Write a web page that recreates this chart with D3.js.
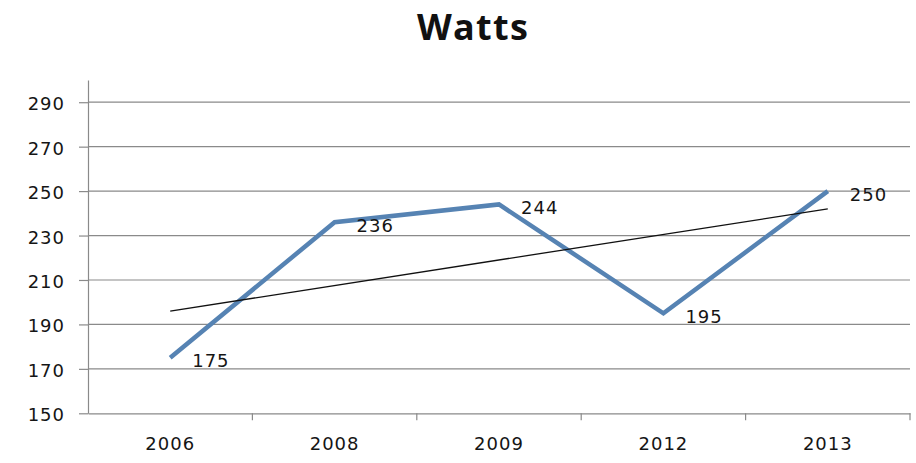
<!DOCTYPE html>
<html>
<head>
<meta charset="utf-8">
<script src="https://cdn.jsdelivr.net/npm/d3@7"></script>
<style>
  html, body { margin: 0; padding: 0; background: #fff; }
  svg { display: block; }
</style>
</head>
<body>
<svg id="chart" width="916" height="463"></svg>
<script>
const title = "Watts";
const categories = ["2006", "2008", "2009", "2012", "2013"];
const values = [175, 236, 244, 195, 250];
const yTicks = [150, 170, 190, 210, 230, 250, 270, 290];
const yDomain = [150, 300];
// linear trendline at the first and last category
const trendCategories = ["2006", "2013"];
const trendValues = [196, 242];

const svg = d3.select("#chart");
const margin = { left: 88, right: 6, top: 80, bottom: 50 };
const W = 916, H = 463;
const plotBottom = 413.3;

const x = d3.scaleBand().domain(categories).range([margin.left, W - margin.right]);
const y = d3.scaleLinear().domain(yDomain).range([plotBottom, margin.top]);
const cx = c => x(c) + x.bandwidth() / 2;

const grey = "#8a8a8a";
const font = "'DejaVu Sans', Verdana, sans-serif";
const textColor = "#151515";

// title
svg.append("text")
  .attr("x", 473).attr("y", 40)
  .attr("text-anchor", "middle")
  .attr("font-family", "'Open Sans', Lato, sans-serif")
  .attr("font-weight", "bold")
  .attr("font-size", "36px")
  .attr("letter-spacing", "1.3px")
  .attr("fill", "#111")
  .text(title);

// gridlines
svg.append("g").selectAll("line").data(yTicks.filter(d => d !== yDomain[0])).join("line")
  .attr("x1", margin.left).attr("x2", W - margin.right)
  .attr("y1", d => y(d)).attr("y2", d => y(d))
  .attr("stroke", grey).attr("stroke-width", 1.2);

// y axis
const yAxis = svg.append("g")
  .attr("transform", `translate(${margin.left},0)`)
  .call(d3.axisLeft(y).tickValues(yTicks).tickSize(9).tickPadding(14).tickSizeOuter(0));
yAxis.select(".domain").attr("stroke", grey).attr("stroke-width", 1.2);
yAxis.selectAll(".tick line").attr("stroke", grey).attr("stroke-width", 1.2);
yAxis.selectAll(".tick text")
  .attr("font-family", font).attr("font-size", "18px")
  .attr("letter-spacing", "1px")
  .attr("fill", textColor).attr("dy", "0.42em");

// x axis
const xAxis = svg.append("g")
  .attr("transform", `translate(0,${plotBottom})`)
  .call(d3.axisBottom(x).tickSize(0).tickPadding(24));
xAxis.select(".domain").attr("stroke", grey).attr("stroke-width", 1.2);
xAxis.selectAll(".tick text")
  .attr("font-family", font).attr("font-size", "18px")
  .attr("letter-spacing", "1px")
  .attr("fill", textColor);
// boundary ticks between categories
const bounds = categories.slice(1).map(c => x(c)).concat([x(categories[categories.length - 1]) + x.bandwidth()]);
svg.append("g").selectAll("line").data(bounds).join("line")
  .attr("x1", d => d).attr("x2", d => d)
  .attr("y1", plotBottom).attr("y2", plotBottom + 7)
  .attr("stroke", grey).attr("stroke-width", 1.2);

// main line
const line = d3.line().x((d, i) => cx(categories[i])).y(d => y(d));
svg.append("path")
  .datum(values)
  .attr("d", line)
  .attr("fill", "none")
  .attr("stroke", "#5683b3")
  .attr("stroke-width", 4.5)
  .attr("stroke-linejoin", "miter");

// trendline
const tline = d3.line().x((d, i) => cx(trendCategories[i])).y(d => y(d));
svg.append("path")
  .datum(trendValues)
  .attr("d", tline)
  .attr("fill", "none")
  .attr("stroke", "#111")
  .attr("stroke-width", 1.3);

// data labels
svg.append("g").selectAll("text").data(values).join("text")
  .attr("x", (d, i) => cx(categories[i]) + 22)
  .attr("y", d => y(d) + 9.5)
  .attr("font-family", font).attr("font-size", "18px")
  .attr("letter-spacing", "1px")
  .attr("fill", textColor)
  .text(d => d);
</script>
</body>
</html>
